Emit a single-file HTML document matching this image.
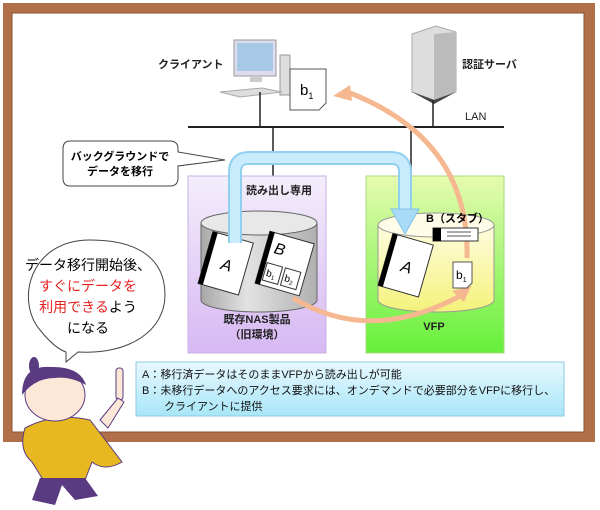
<!DOCTYPE html>
<html><head><meta charset="utf-8"><style>
body{margin:0;background:#fff;}
svg{display:block;font-family:"Liberation Sans","Noto Sans CJK JP",sans-serif;}
</style></head><body>
<svg width="600" height="510" viewBox="0 0 600 510" xmlns="http://www.w3.org/2000/svg">
<defs>
<linearGradient id="pur" x1="0" y1="0" x2="0" y2="1"><stop offset="0" stop-color="#f4eefb"/><stop offset="1" stop-color="#d7b8f3"/></linearGradient>
<linearGradient id="grn" x1="0" y1="0" x2="0" y2="1"><stop offset="0" stop-color="#e6fbb0"/><stop offset="1" stop-color="#66f03a"/></linearGradient>
<linearGradient id="cylg" x1="0" y1="0" x2="1" y2="0"><stop offset="0" stop-color="#a8a8a8"/><stop offset="0.4" stop-color="#e2e2e2"/><stop offset="1" stop-color="#b0b0b0"/></linearGradient>
<linearGradient id="cyly" x1="0" y1="0" x2="0" y2="1"><stop offset="0" stop-color="#fffde0"/><stop offset="1" stop-color="#f4f27a"/></linearGradient>
<linearGradient id="txt" x1="0" y1="0" x2="0" y2="1"><stop offset="0" stop-color="#e8f8fe"/><stop offset="1" stop-color="#a8e6f8"/></linearGradient>
</defs>
<!-- board -->
<rect x="3" y="3" width="592" height="439" fill="#b2704a"/>
<rect x="12" y="13" width="572" height="419" fill="#fff" stroke="#8a5030" stroke-width="1"/>
<!-- computer -->
<rect x="234" y="40" width="42" height="36" fill="#dde" stroke="#999"/>
<rect x="237" y="43" width="36" height="28" fill="#a8c8e8"/>
<rect x="250" y="76" width="12" height="6" fill="#ccc"/>
<rect x="280" y="55" width="10" height="40" fill="#ddd" stroke="#999"/>
<polygon points="220,92 262,88 282,92 240,97" fill="#ddd" stroke="#aaa"/>
<text x="158" y="68" font-size="11" font-weight="bold" fill="#222">クライアント</text>
<!-- b1 doc client -->
<path d="M290 69 H326 V103 L319 110 H290 Z" fill="#fff" stroke="#555"/>
<text x="300" y="95" font-size="15" fill="#000">b<tspan font-size="9" dy="4">1</tspan></text>
<!-- server -->
<polygon points="412,34 436,26 456,32 456,92 434,100 412,92" fill="#ddd" stroke="#aaa"/>
<polygon points="434,34 456,32 456,92 434,100" fill="#bbb"/>
<polygon points="412,92 434,100 456,92 434,104" fill="#444"/>
<text x="462" y="68" font-size="11" font-weight="bold" fill="#222">認証サーバ</text>
<!-- LAN -->
<line x1="188" y1="127" x2="504" y2="127" stroke="#222" stroke-width="2"/>
<text x="465" y="120" font-size="11" fill="#222">LAN</text>
<line x1="260" y1="92" x2="260" y2="127" stroke="#222" stroke-width="1.5"/>
<line x1="433" y1="100" x2="433" y2="127" stroke="#222" stroke-width="1.5"/>
<line x1="273" y1="127" x2="273" y2="176" stroke="#222" stroke-width="1.5"/>
<line x1="411" y1="127" x2="411" y2="176" stroke="#222" stroke-width="1.5"/>
<!-- boxes -->
<rect x="188" y="176" width="138" height="177" fill="url(#pur)" stroke="#c9b0e6"/>
<rect x="366" y="176" width="138" height="177" fill="url(#grn)" stroke="#a8d880"/>
<text x="246" y="194" font-size="11" font-weight="bold" fill="#222">読み出し専用</text>
<text x="257" y="323" font-size="11" font-weight="bold" fill="#222" text-anchor="middle">既存NAS製品</text>
<text x="257" y="338" font-size="11" font-weight="bold" fill="#222" text-anchor="middle">（旧環境）</text>
<text x="434" y="330" font-size="11" font-weight="bold" fill="#222" text-anchor="middle">VFP</text>
<!-- left cylinder -->
<path d="M201 223 V300 A58 12 0 0 0 317 300 V223 Z" fill="url(#cylg)" stroke="#666"/>
<ellipse cx="259" cy="223" rx="58" ry="12" fill="#e8e8e8" stroke="#666"/>
<g transform="rotate(16 225 262)"><rect x="205" y="236" width="42" height="54" fill="#fff" stroke="#333"/><rect x="205" y="236" width="5" height="54" fill="#000"/><text x="222" y="270" font-size="16" font-style="italic">A</text></g>
<g transform="rotate(16 283 262)"><rect x="262" y="236" width="46" height="54" fill="#fff" stroke="#333"/><rect x="262" y="236" width="5" height="54" fill="#000"/><text x="271" y="256" font-size="16" font-style="italic">B</text>
<rect x="268" y="267" width="16" height="18" fill="#fff" stroke="#333"/><rect x="287" y="267" width="16" height="18" fill="#fff" stroke="#333"/>
<text x="270" y="280" font-size="10">b<tspan font-size="6" dy="2">1</tspan></text><text x="289" y="280" font-size="10">b<tspan font-size="6" dy="2">2</tspan></text></g>
<!-- right cylinder -->
<path d="M378 225 V300 A58 12 0 0 0 494 300 V225 Z" fill="url(#cyly)" stroke="#999"/>
<ellipse cx="436" cy="225" rx="58" ry="12" fill="#fffde8" stroke="#999"/>
<g transform="rotate(16 405 264)"><rect x="385" y="238" width="42" height="54" fill="#fff" stroke="#333"/><rect x="385" y="238" width="5" height="54" fill="#000"/><text x="402" y="272" font-size="16" font-style="italic">A</text></g>
<!-- blue arrow -->
<path d="M235 243 V172 Q235 158 249 158 H391 Q405 158 405 172 V210" fill="none" stroke="#8fd0f0" stroke-width="14"/>
<path d="M235 243 V172 Q235 158 249 158 H391 Q405 158 405 172 V210" fill="none" stroke="#c8ecfc" stroke-width="10"/>
<polygon points="391,209 419,209 405,234" fill="#a8dcf6" stroke="#80c4ec"/>
<!-- orange arcs -->
<path d="M467 258 Q470 140 350 93" fill="none" stroke="#f6b890" stroke-width="5"/>
<polygon points="333,96 350,85 352,101" fill="#f6b890"/>
<path d="M293 298 Q370 345 462 295" fill="none" stroke="#f6b890" stroke-width="5"/>
<polygon points="471,286 452,291 464,302" fill="#f6b890"/>
<text x="426" y="222" font-size="11" font-weight="bold">B（スタブ）</text>
<rect x="433" y="228" width="45" height="13" fill="#fff" stroke="#333"/><rect x="433" y="228" width="8" height="13" fill="#000"/>
<line x1="447" y1="232" x2="471" y2="232" stroke="#555"/><line x1="447" y1="236" x2="471" y2="236" stroke="#555"/>
<path d="M453 262 H472 V283 L467 288 H453 Z" fill="#fff" stroke="#555"/>
<text x="456" y="279" font-size="12">b<tspan font-size="7" dy="3">1</tspan></text>
<!-- callout -->
<path d="M70 141 H170 Q178 141 178 149 V152 L225 160 L178 166 V178 Q178 186 170 186 H70 Q63 186 63 178 V149 Q63 141 70 141 Z" fill="#fff" stroke="#444"/>
<text x="120" y="160" font-size="11" font-weight="bold" text-anchor="middle">バックグラウンドで</text>
<text x="120" y="175" font-size="11" font-weight="bold" text-anchor="middle">データを移行</text>
<!-- speech bubble -->
<path d="M90 240 C30 240 15 300 40 330 C52 345 60 350 66 352 L66 362 L78 352 C130 355 165 330 165 295 C165 260 140 240 90 240 Z" fill="#fff" stroke="#444"/>
<text x="88" y="270" font-size="14" text-anchor="middle">データ移行開始後、</text>
<text x="88" y="291" font-size="14" text-anchor="middle" fill="#e82020">すぐにデータを</text>
<text x="88" y="312" font-size="14" text-anchor="middle"><tspan fill="#e82020">利用できる</tspan>よう</text>
<text x="88" y="333" font-size="14" text-anchor="middle">になる</text>
<!-- text box -->
<rect x="136" y="362" width="428" height="54" fill="url(#txt)" stroke="#8ccbe0"/>
<text x="142" y="378" font-size="11" fill="#111">A：移行済データはそのままVFPから読み出しが可能</text>
<text x="142" y="394" font-size="11" fill="#111">B：未移行データへのアクセス要求には、オンデマンドで必要部分をVFPに移行し、</text>
<text x="164" y="410" font-size="11" fill="#111">クライアントに提供</text>
<!-- character (simplified) -->
<path d="M25 428 Q55 412 90 420 L122 462 Q105 472 92 462 L85 480 Q60 488 42 478 L32 462 Q18 450 25 428 Z" fill="#e8b820" stroke="#5a3a80"/>
<path d="M40 478 L32 500 L55 505 L62 485 L75 500 L98 496 L85 478 Z" fill="#5a3a80"/>
<ellipse cx="55" cy="395" rx="30" ry="26" fill="#fde8d8" stroke="#5a3a80"/>
<path d="M22 395 Q22 365 50 367 Q80 366 86 385 Q70 376 55 378 Q35 378 22 395 Z" fill="#5a3a80"/>
<ellipse cx="34" cy="366" rx="5" ry="9" fill="#5a3a80"/>
<rect x="116" y="368" width="7" height="32" rx="3" fill="#fde8d8" stroke="#5a3a80"/>
<path d="M100 420 L118 398 L124 402 L108 428 Z" fill="#fde8d8" stroke="#5a3a80"/>
</svg>
</body></html>
